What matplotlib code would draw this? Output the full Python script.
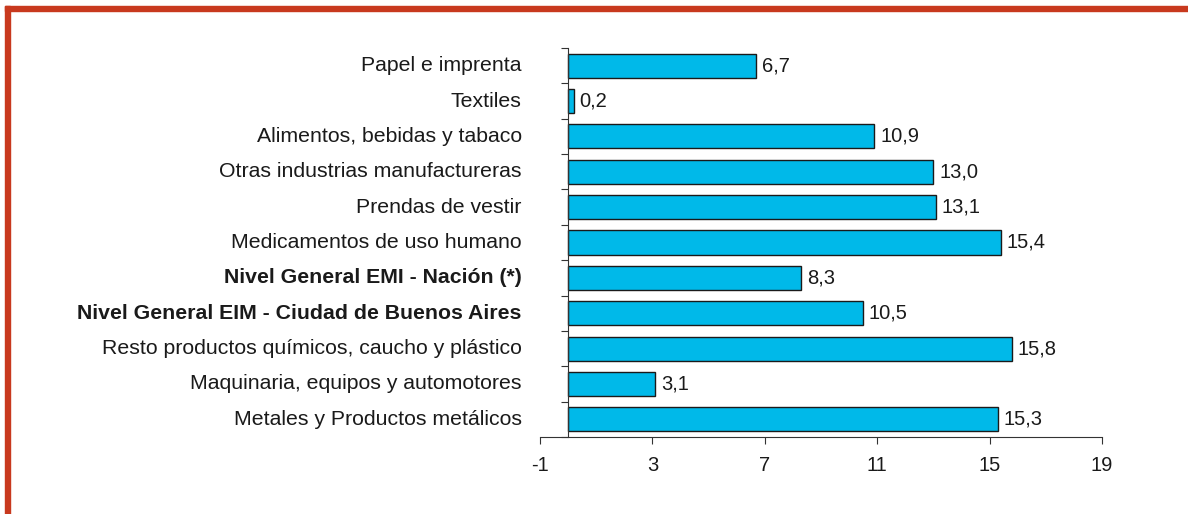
import matplotlib.pyplot as plt
from matplotlib.patches import Rectangle
from matplotlib.ticker import FixedLocator

plt.rcParams["font.family"] = ["Liberation Sans", "DejaVu Sans"]

categorias = [
    "Papel e imprenta",
    "Textiles",
    "Alimentos, bebidas y tabaco",
    "Otras industrias manufactureras",
    "Prendas de vestir",
    "Medicamentos de uso humano",
    "Nivel General EMI - Nación (*)",
    "Nivel General EIM - Ciudad de Buenos Aires",
    "Resto productos químicos, caucho y plástico",
    "Maquinaria, equipos y automotores",
    "Metales y Productos metálicos",
]
valores = [6.7, 0.2, 10.9, 13.0, 13.1, 15.4, 8.3, 10.5, 15.8, 3.1, 15.3]
negrita = [False] * 6 + [True, True] + [False] * 3
xticks = [-1, 3, 7, 11, 15, 19]

fs = 14.5

fig = plt.figure(figsize=(11.88, 5.14), dpi=100)
ax = fig.add_axes([540 / 1188, 77 / 514, 562 / 1188, 389 / 514])

y = list(range(len(categorias)))
ax.barh(y, valores, height=0.68, color="#00B9E9", edgecolor="#1a1a1a", linewidth=1.0)

for yi, v in zip(y, valores):
    ax.text(v + 0.2, yi, f"{v:.1f}".replace(".", ","), va="center", ha="left",
            fontsize=fs, color="#1a1a1a")

ax.set_xlim(-1, 19)
ax.set_ylim(len(categorias) - 0.5, -0.5)

ax.spines["top"].set_visible(False)
ax.spines["right"].set_visible(False)
ax.spines["left"].set_position(("data", 0))
for s in ("left", "bottom"):
    ax.spines[s].set_color("#333333")
    ax.spines[s].set_linewidth(0.8)

ax.set_xticks(xticks)
ax.set_xticklabels([str(t) for t in xticks], fontsize=fs, color="#1a1a1a")
ax.tick_params(axis="x", length=5, width=0.8, color="#333333", pad=9)

ax.yaxis.set_major_locator(FixedLocator([i - 0.5 for i in range(len(categorias) + 1)]))
ax.set_yticklabels([])
ax.tick_params(axis="y", length=5, width=0.8, color="#333333")

for yi, c, b in zip(y, categorias, negrita):
    ax.text(-1.0 - 0.65, yi, c, ha="right", va="center", fontsize=15.3,
            fontweight="bold" if b else "normal", color="#1a1a1a",
            transform=ax.transData, clip_on=False)

# marco rojo
fig.patches.append(Rectangle((5 / 1188, 0), 5 / 1188, 508 / 514, transform=fig.transFigure,
                             color="#C8391E", zorder=5))
fig.patches.append(Rectangle((5 / 1188, 503 / 514), 1183 / 1188, 5 / 514,
                             transform=fig.transFigure, color="#C8391E", zorder=5))

fig.savefig("out.png", dpi=100)
